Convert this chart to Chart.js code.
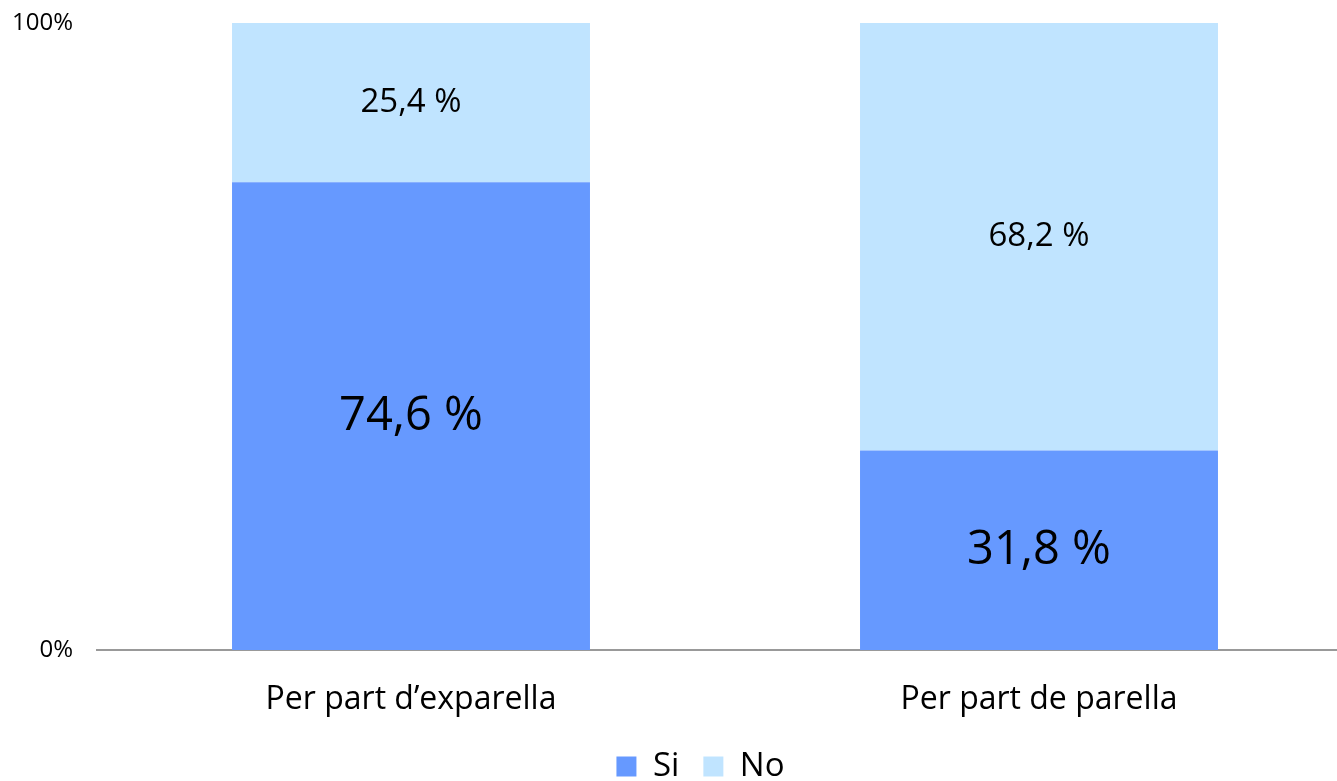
<!DOCTYPE html>
<html>
<head>
<meta charset="utf-8">
<script src="https://cdn.jsdelivr.net/npm/chart.js@4/dist/chart.umd.min.js"></script>
<style>
  html, body { margin: 0; padding: 0; background: #fff; overflow: hidden; }
  #wrap { width: 1353px; height: 781px; }
</style>
</head>
<body>
<div id="wrap"><canvas id="chart"></canvas></div>
<script>
// data
var categories = ["Per part d\u2019exparella", "Per part de parella"];
var siValues = [74.6, 31.8];
var noValues = [25.4, 68.2];
var seriesNames = ["Si", "No"];
var yTicks = [0, 100];

// draws the value labels inside each segment
var segmentLabels = {
    id: 'segmentLabels',
    afterDatasetsDraw: function (chart) {
        var ctx = chart.ctx;
        ctx.save();
        ctx.fillStyle = '#000';
        ctx.textAlign = 'center';
        ctx.textBaseline = 'middle';
        chart.data.datasets.forEach(function (ds, i) {
            var meta = chart.getDatasetMeta(i);
            var size = i === 0 ? 47 : 33;
            ctx.font = size + 'px "Open Sans", sans-serif';
            meta.data.forEach(function (bar, j) {
                var mid = (bar.y + bar.base) / 2;
                ctx.fillText(ds.data[j].toFixed(1).replace('.', ',') + ' %', bar.x, mid);
            });
        });
        ctx.restore();
    }
};

var ctx = document.getElementById('chart').getContext('2d');

var myBarChart = new Chart(ctx, {
    type: 'bar',
    data: {
        labels: categories,
        datasets: [{
            label: seriesNames[0],
            data: siValues,
            backgroundColor: "#6699FF",
            categoryPercentage: 1,
            barPercentage: 0.57
        }, {
            label: seriesNames[1],
            data: noValues,
            backgroundColor: "#C0E4FF",
            categoryPercentage: 1,
            barPercentage: 0.57
        }]
    },
    options: {
        responsive: true,
        maintainAspectRatio: false,
        animation: false,
        layout: { padding: 0 },
        plugins: {
            tooltip: { enabled: false },
            legend: {
                position: 'bottom',
                labels: {
                    color: '#000',
                    font: { family: '"Open Sans", sans-serif', size: 33 },
                    boxWidth: 20,
                    boxHeight: 20,
                    padding: 24
                }
            }
        },
        scales: {
            x: {
                stacked: true,
                afterFit: function (scale) { scale.height = 76; },
                grid: { display: false },
                border: { display: true, color: '#999', width: 2 },
                ticks: {
                    color: '#000',
                    font: { family: '"Open Sans", sans-serif', size: 32 },
                    padding: 23
                }
            },
            y: {
                stacked: true,
                min: 0,
                max: 100,
                afterFit: function (scale) {
                    scale.width = 97;
                    scale.paddingTop = 23;
                    scale.paddingBottom = 0;
                },
                afterBuildTicks: function (scale) {
                    scale.ticks = yTicks.map(function (v) { return { value: v }; });
                },
                grid: { display: false },
                border: { display: false },
                ticks: {
                    color: '#000',
                    font: { family: '"Open Sans", sans-serif', size: 24 },
                    padding: 16,
                    callback: function (v) { return v + '%'; }
                }
            }
        }
    },
    plugins: [segmentLabels]
});

// legend sits lower and a bit to the right in the original
var legendFit = myBarChart.legend.fit;
myBarChart.legend.fit = function () {
    legendFit.call(this);
    this.height -= 12;
    if (this.lineWidths) this.lineWidths[0] -= 48;
};
myBarChart.update();
</script>
</body>
</html>
